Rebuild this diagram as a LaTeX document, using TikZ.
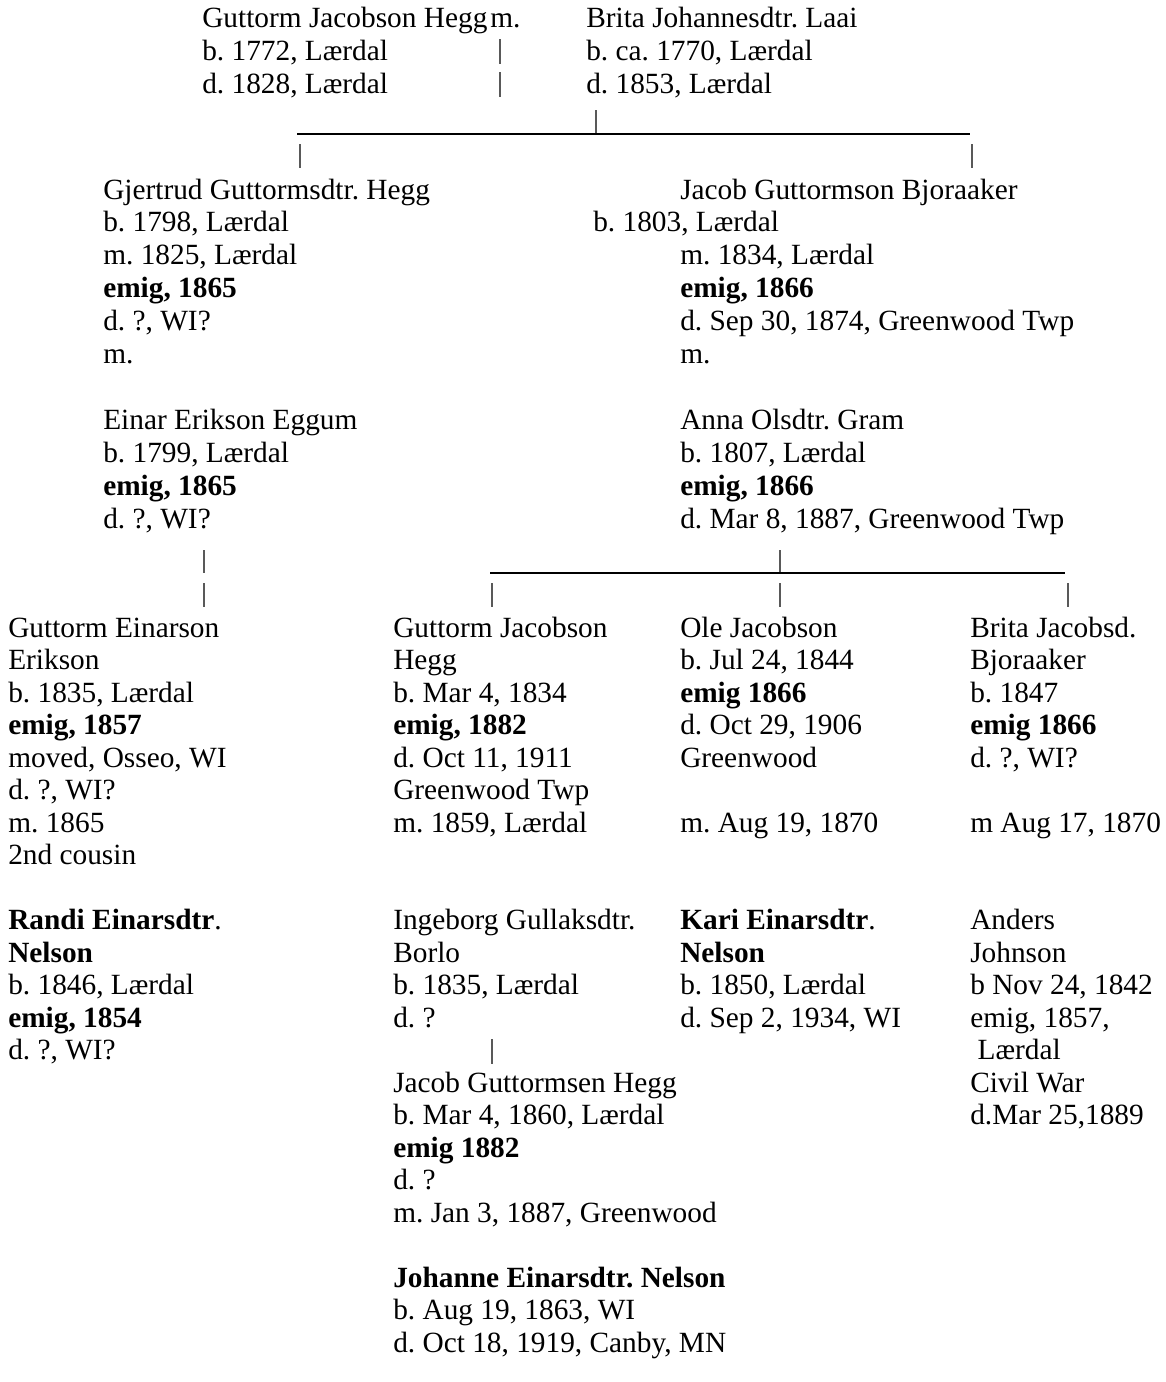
\documentclass[tikz,border=0pt]{standalone}
\usepackage{fontspec}
\setmainfont{Liberation Serif}
\frenchspacing
\newcommand\Ln[1]{\hbox{#1}}
\newcommand\PB[2]{\vtop{\baselineskip=#1\relax\lineskiplimit=-100pt\relax #2}}
\newcommand\VBar[4]{\coordinate (#1t) at (#2,#3); \coordinate (#1b) at (#2,#4); \draw[bar] (#1t) -- (#1b);}
\begin{document}
\begin{tikzpicture}[x=0.75pt,y=-0.75pt,
  person/.style={anchor=base west, inner sep=0pt, font=\fontsize{22}{24.9}\selectfont\frenchspacing},
  bar/.style={draw=black!65, line width=0.9pt},
  hline/.style={draw=black, line width=1.7pt}]
\useasboundingbox (0,0) rectangle (1166,1382);

% ---------- generation 1 ----------
\node[person] (gjh) at (202,27) {\PB{24.75pt}{\Ln{Guttorm Jacobson Hegg}\Ln{b. 1772, Lærdal}\Ln{d. 1828, Lærdal}}};
\node[person] (m0) at (490,27) {m.};
\node[person] (bjl) at (586,27) {\PB{24.75pt}{\Ln{Brita Johannesdtr. Laai}\Ln{b. ca. 1770, Lærdal}\Ln{d. 1853, Lærdal}}};
\VBar{ba}{500}{39}{64}
\VBar{bb}{500}{72}{97}
\VBar{bc}{596}{110}{133}
\coordinate (la) at (297,134);
\coordinate (lb) at (970,134);
\draw[hline] (la) -- (lb);
\VBar{bd}{300}{144}{168}
\VBar{be}{972}{144}{168}

% ---------- generation 2 ----------
\node[person] (ggh) at (103,199) {\PB{24.675pt}{%
  \Ln{Gjertrud Guttormsdtr. Hegg}\Ln{b. 1798, Lærdal}\Ln{m. 1825, Lærdal}%
  \Ln{\textbf{emig, 1865}}\Ln{d. ?, WI?}\Ln{m.}\Ln{}%
  \Ln{Einar Erikson Eggum}\Ln{b. 1799, Lærdal}\Ln{\textbf{emig, 1865}}\Ln{d. ?, WI?}}};
\node[person] (jgb) at (680,199) {\PB{24.675pt}{%
  \Ln{Jacob Guttormson Bjoraaker}\Ln{}\Ln{m. 1834, Lærdal}%
  \Ln{\textbf{emig, 1866}}\Ln{d. Sep 30, 1874, Greenwood Twp}\Ln{m.}\Ln{}%
  \Ln{Anna Olsdtr. Gram}\Ln{b. 1807, Lærdal}\Ln{\textbf{emig, 1866}}\Ln{d. Mar 8, 1887, Greenwood Twp}}};
\node[person] (jgbb) at (593,231.9) {b. 1803, Lærdal};
\VBar{bf}{204}{550}{573}
\VBar{bg}{204}{583}{607}
\VBar{bh}{780}{550}{573}
\coordinate (lc) at (490,573);
\coordinate (ld) at (1065,573);
\draw[hline] (lc) -- (ld);
\VBar{bi}{492}{583}{607}
\VBar{bj}{780}{583}{607}
\VBar{bk}{1068}{583}{607}

% ---------- generation 3 ----------
\node[person] (gee) at (8,637) {\PB{24.375pt}{%
  \Ln{Guttorm Einarson}\Ln{Erikson}\Ln{b. 1835, Lærdal}\Ln{\textbf{emig, 1857}}%
  \Ln{moved, Osseo, WI}\Ln{d. ?, WI?}\Ln{m. 1865}\Ln{2nd cousin}\Ln{}%
  \Ln{\textbf{Randi Einarsdtr}.}\Ln{\textbf{Nelson}}\Ln{b. 1846, Lærdal}\Ln{\textbf{emig, 1854}}\Ln{d. ?, WI?}}};
\node[person] (gjh2) at (393,637) {\PB{24.375pt}{%
  \Ln{Guttorm Jacobson}\Ln{Hegg}\Ln{b. Mar 4, 1834}\Ln{\textbf{emig, 1882}}%
  \Ln{d. Oct 11, 1911}\Ln{Greenwood Twp}\Ln{m. 1859, Lærdal}\Ln{}\Ln{}%
  \Ln{Ingeborg Gullaksdtr.}\Ln{Borlo}\Ln{b. 1835, Lærdal}\Ln{d. ?}\Ln{}%
  \Ln{Jacob Guttormsen Hegg}\Ln{b. Mar 4, 1860, Lærdal}\Ln{\textbf{emig 1882}}\Ln{d. ?}%
  \Ln{m. Jan 3, 1887, Greenwood}\Ln{}%
  \Ln{\textbf{Johanne Einarsdtr. Nelson}}\Ln{b. Aug 19, 1863, WI}\Ln{d. Oct 18, 1919, Canby, MN}}};
\node[person] (oj) at (680,637) {\PB{24.375pt}{%
  \Ln{Ole Jacobson}\Ln{b. Jul 24, 1844}\Ln{\textbf{emig 1866}}\Ln{d. Oct 29, 1906}%
  \Ln{Greenwood}\Ln{}\Ln{m. Aug 19, 1870}\Ln{}\Ln{}%
  \Ln{\textbf{Kari Einarsdtr}.}\Ln{\textbf{Nelson}}\Ln{b. 1850, Lærdal}\Ln{d. Sep 2, 1934, WI}}};
\node[person] (bjb) at (970,637) {\PB{24.375pt}{%
  \Ln{Brita Jacobsd.}\Ln{Bjoraaker}\Ln{b. 1847}\Ln{\textbf{emig 1866}}%
  \Ln{d. ?, WI?}\Ln{}\Ln{m Aug 17, 1870}\Ln{}\Ln{}%
  \Ln{Anders}\Ln{Johnson}\Ln{b Nov 24, 1842}\Ln{emig, 1857,}\Ln{\ Lærdal}%
  \Ln{Civil War}\Ln{d.Mar 25,1889}}};
\VBar{bl}{492}{1039}{1064}
\end{tikzpicture}
\end{document}
